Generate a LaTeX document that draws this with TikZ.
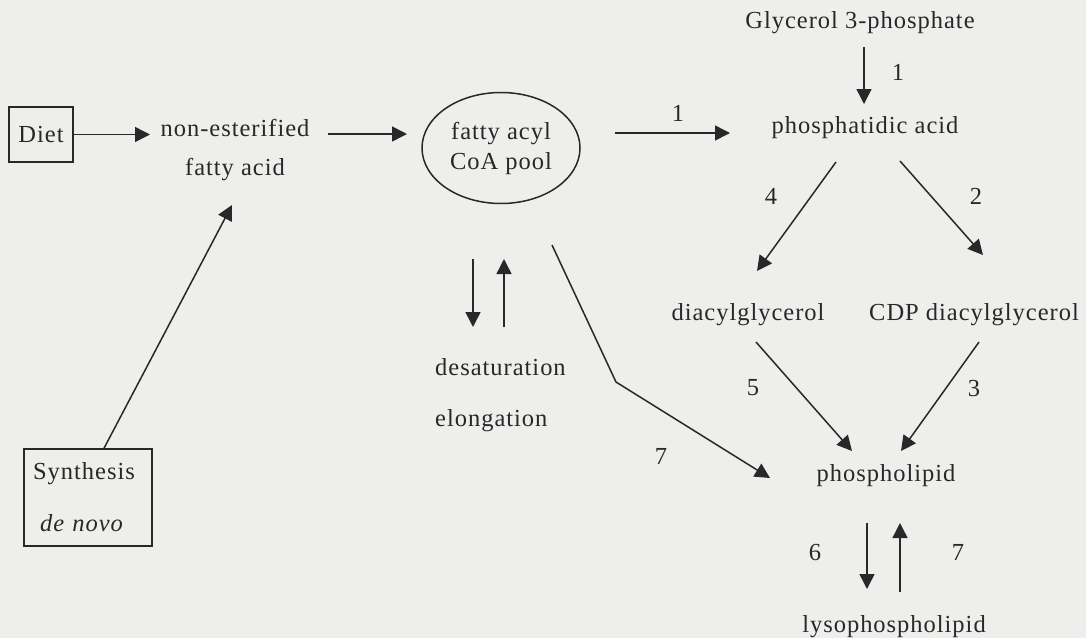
\documentclass[tikz,border=0pt]{standalone}
\usepackage{fontspec}
\setmainfont{Liberation Serif}[LetterSpace=4]
\usetikzlibrary{arrows.meta,shapes.geometric,calc}
\definecolor{ink}{RGB}{40,40,40}
\definecolor{paper}{RGB}{238,238,236}
\begin{document}
\begin{tikzpicture}[x=1pt,y=-1pt,
  every node/.style={font=\fontsize{24.5}{30}\selectfont, text=ink, inner sep=0pt},
  arr/.style={draw=ink, line width=1.5pt, -{Triangle[length=15pt,width=15pt]}},
  boxed/.style={draw=ink, line width=1.5pt, rectangle},
  lbl/.style={}]
\fill[paper] (0,0) rectangle (1086,638);
\useasboundingbox (0,0) rectangle (1086,638);

% nodes
\node[boxed, minimum width=64pt, minimum height=55pt] (diet) at (41,134.5) {Diet};
\node[align=center, font=\fontsize{24.5}{39}\selectfont] (nefa) at (235,150) {non-esterified\\fatty acid};
\node[ellipse, draw=ink, line width=1.5pt, minimum width=158pt, minimum height=111pt, align=center] (pool) at (501,148) {fatty acyl\\CoA pool};
\node (g3p) at (860,23) {Glycerol 3-phosphate};
\node (pa) at (865,128) {phosphatidic acid};
\node (dag) at (748,315) {diacylglycerol};
\node (cdp) at (974,315) {CDP diacylglycerol};
\node (pl) at (886,476) {phospholipid};
\node (lpl) at (894,627) {lysophospholipid};
\node[anchor=west] (desat) at (435,367) {desaturation};
\node[anchor=west] (elong) at (435,421) {elongation};
\node[boxed, minimum width=128pt, minimum height=97pt, align=center, text width=100pt] (synth) at (88,497.5) {\hspace*{-8pt}Synthesis\\[22pt]\hspace*{-12pt}\textit{de novo}};

% labels
\node[lbl] (l1a) at (678,113) {1};
\node[lbl] (l1b) at (898,72) {1};
\node[lbl] (l4) at (771,196) {4};
\node[lbl] (l2) at (976,196) {2};
\node[lbl] (l5) at (753,388) {5};
\node[lbl] (l3) at (974,388) {3};
\node[lbl] (l7a) at (661,456) {7};
\node[lbl] (l6) at (815,552) {6};
\node[lbl] (l7b) at (958,552) {7};

% connectors
\draw[arr] (diet.east) -- ($(nefa)+(-85,-15.5)$);
\draw[arr] ($(nefa)+(93,-16)$) -- ($(pool)+(-94,-14)$);
\draw[arr] ($(pool)+(114,-15)$) -- ($(pa)+(-135,5)$);
\draw[arr] ($(g3p)+(4,24)$) -- ($(pa)+(-1,-24)$);
\draw[arr] ($(pa)+(-29,34)$) -- ($(dag)+(9,-44)$);
\draw[arr] ($(pa)+(35,33)$) -- ($(cdp)+(9,-60)$);
\draw[arr] ($(dag)+(8,27)$) -- ($(pl)+(-34,-25)$);
\draw[arr] ($(cdp)+(5,27)$) -- ($(pl)+(15,-25)$);
\draw[arr] ($(pool)+(51,97)$) -- (616,382) -- ($(pl)+(-116,2)$);
\draw[arr] ($(pl)+(-19,47)$) -- ($(lpl)+(-27,-38)$);
\draw[arr] ($(lpl)+(6,-35)$) -- ($(pl)+(14,47)$);
\draw[arr] ($(pool)+(-28,111)$) -- ($(desat.west)+(38,-40)$);
\draw[arr] ($(desat.west)+(69,-40)$) -- ($(pool)+(3,111)$);
\draw[arr] ($(synth.north)+(16,0)$) -- ($(nefa)+(-3,55)$);
\end{tikzpicture}
\end{document}
